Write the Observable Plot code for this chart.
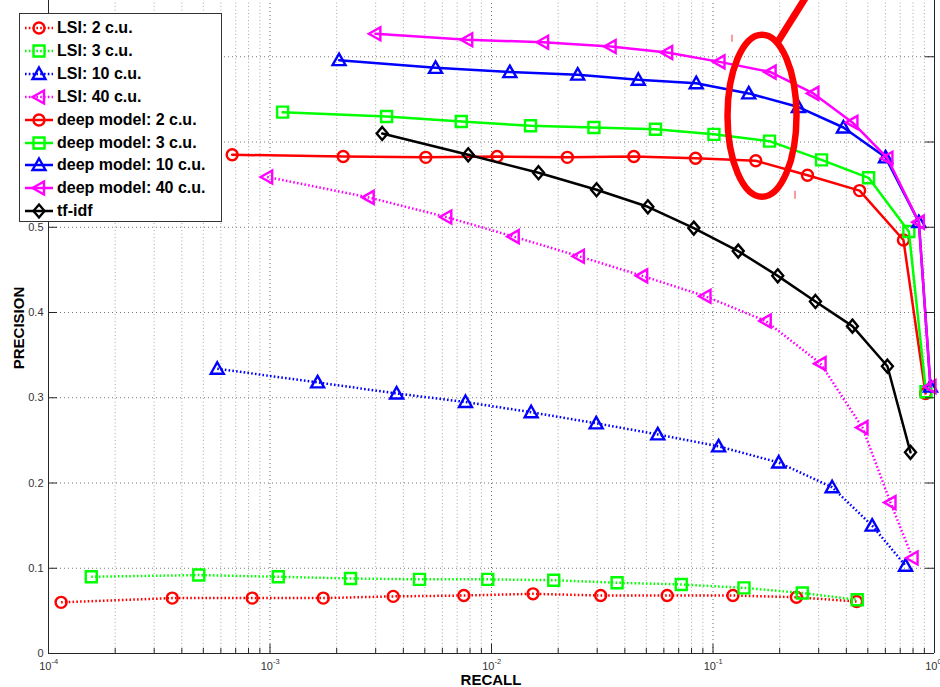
<!DOCTYPE html>
<html><head><meta charset="utf-8">
<script src="https://cdn.jsdelivr.net/npm/d3@7"></script>
<script src="https://cdn.jsdelivr.net/npm/@observablehq/plot@0.6"></script>
<style>
html,body{margin:0;padding:0;background:#fff;}
#wrap{position:relative;width:940px;height:687px;overflow:hidden;background:#fff;font-family:"Liberation Sans",Arial,Helvetica,sans-serif;}
#wrap svg.plotsvg{position:absolute;left:0;top:0;}
#legend{position:absolute;left:19px;top:13px;width:203px;height:209px;background:#fff;border:1px solid #333;box-sizing:border-box;}
.lrow{position:absolute;left:0;height:22px;display:flex;align-items:center;}
.lrow svg{display:block;}
.lrow span{font-weight:bold;font-size:16px;color:#000;margin-left:1px;white-space:nowrap;}
.atitle{position:absolute;font-weight:bold;font-size:15px;color:#000;white-space:nowrap;}
</style>
</head><body>
<div id="wrap"></div>
<script>
// ---------- data ----------
const seriesNames = ["LSI: 2 c.u.","LSI: 3 c.u.","LSI: 10 c.u.","LSI: 40 c.u.",
  "deep model: 2 c.u.","deep model: 3 c.u.","deep model: 10 c.u.","deep model: 40 c.u.","tf-idf"];
const seriesColors = ["#ff0000","#00ff00","#0000ff","#ff00ff","#ff0000","#00ff00","#0000ff","#ff00ff","#000000"];

const lsi2Recall    = [1.14e-4,3.62e-4,8.31e-4,1.74e-3,3.60e-3,7.50e-3,1.54e-2,3.11e-2,6.21e-2,0.123,0.238,0.445];
const lsi2Precision = [0.060,0.065,0.065,0.065,0.067,0.068,0.070,0.068,0.068,0.068,0.066,0.061];
const lsi3Recall    = [1.56e-4,4.77e-4,1.09e-3,2.31e-3,4.73e-3,9.62e-3,1.91e-2,3.69e-2,7.19e-2,0.138,0.253,0.448];
const lsi3Precision = [0.090,0.092,0.090,0.088,0.087,0.087,0.086,0.083,0.081,0.077,0.071,0.063];
const lsi10Recall    = [5.78e-4,1.64e-3,3.73e-3,7.63e-3,1.51e-2,2.97e-2,5.63e-2,0.106,0.198,0.345,0.523,0.740];
const lsi10Precision = [0.334,0.318,0.305,0.295,0.283,0.270,0.257,0.243,0.224,0.195,0.150,0.103];
const lsi40Recall    = [9.71e-4,2.79e-3,6.25e-3,1.26e-2,2.48e-2,4.79e-2,9.25e-2,0.173,0.306,0.473,0.633,0.796];
const lsi40Precision = [0.559,0.535,0.512,0.489,0.466,0.443,0.419,0.390,0.340,0.265,0.177,0.112];
const deep2Recall    = [6.75e-4,2.14e-3,5.05e-3,1.06e-2,2.20e-2,4.39e-2,8.34e-2,0.156,0.267,0.459,0.724,0.911];
const deep2Precision = [0.585,0.583,0.582,0.583,0.582,0.583,0.581,0.578,0.561,0.543,0.485,0.305];
const deep3Recall    = [1.14e-3,3.36e-3,7.30e-3,1.50e-2,2.90e-2,5.50e-2,0.101,0.180,0.309,0.504,0.766,0.915];
const deep3Precision = [0.635,0.630,0.624,0.619,0.617,0.615,0.609,0.601,0.579,0.558,0.495,0.307];
const deep10Recall    = [2.05e-3,5.59e-3,1.21e-2,2.45e-2,4.60e-2,8.40e-2,0.145,0.243,0.388,0.601,0.850,0.959];
const deep10Precision = [0.696,0.687,0.682,0.679,0.673,0.669,0.657,0.641,0.617,0.582,0.506,0.313];
const deep40Recall    = [2.99e-3,7.77e-3,1.71e-2,3.45e-2,6.21e-2,0.107,0.182,0.284,0.426,0.613,0.850,0.959];
const deep40Precision = [0.727,0.720,0.717,0.712,0.705,0.694,0.682,0.657,0.623,0.581,0.506,0.313];
const tfidfRecall    = [3.21e-3,7.85e-3,1.63e-2,2.98e-2,5.08e-2,8.19e-2,0.130,0.196,0.290,0.426,0.613,0.779];
const tfidfPrecision = [0.610,0.585,0.564,0.544,0.524,0.499,0.472,0.443,0.413,0.384,0.337,0.236];

const xMajorTicks = [1e-4,1e-3,1e-2,1e-1,1];
const xTickBase = ["10","10","10","10","10"];
const xTickExp = ["-4","-3","-2","-1","0"];
const yTicks = [0,0.1,0.2,0.3,0.4,0.5,0.6,0.7];
const yTickLabels = ["0","0.1","0.2","0.3","0.4","0.5","0.6","0.7"];
const xTitle = "RECALL", yTitle = "PRECISION";
// annotation (red ellipse) centre in data units
const noteRecall = 0.1673, notePrecision = 0.6303;

// ---------- symbols ----------
const symCircle = {draw(c){ c.moveTo(5.5,0); c.arc(0,0,5.5,0,2*Math.PI); c.closePath(); }};
const symSquare = {draw(c){ c.moveTo(-5.5,-5.5); c.lineTo(5.5,-5.5); c.lineTo(5.5,5.5); c.lineTo(-5.5,5.5); c.closePath(); }};
const symTriUp = {draw(c){ c.moveTo(0,-6.5); c.lineTo(6.5,5); c.lineTo(-6.5,5); c.closePath(); }};
const symTriLeft = {draw(c){ c.moveTo(-6.5,0); c.lineTo(5,-6.5); c.lineTo(5,6.5); c.closePath(); }};
const symDiamond = {draw(c){ c.moveTo(0,-6.5); c.lineTo(5.5,0); c.lineTo(0,6.5); c.lineTo(-5.5,0); c.closePath(); }};

const seriesData = [
  [lsi2Recall,lsi2Precision],[lsi3Recall,lsi3Precision],[lsi10Recall,lsi10Precision],[lsi40Recall,lsi40Precision],
  [deep2Recall,deep2Precision],[deep3Recall,deep3Precision],[deep10Recall,deep10Precision],[deep40Recall,deep40Precision],
  [tfidfRecall,tfidfPrecision]];
const seriesSymbols = [symCircle,symSquare,symTriUp,symTriLeft,symCircle,symSquare,symTriUp,symTriLeft,symDiamond];
const seriesDotted = [true,true,true,true,false,false,false,false,false];

const tables = seriesData.map(([rx,py],k)=>rx.map((r,i)=>({series:seriesNames[k],recall:r,precision:py[i]})));

const xMinorTicks = [];
xMajorTicks.slice(0,-1).forEach(m=>{ for(let k=2;k<=9;k++) xMinorTicks.push(m*k); });

const axisColor = "#262626";
const marks = [
  Plot.ruleY(yTicks.slice(1), {y:d=>d, stroke:"#777", strokeDasharray:"1,3", strokeWidth:1}),
  Plot.ruleX(xMinorTicks, {x:d=>d, stroke:"#aaa", strokeDasharray:"1,2.5", strokeWidth:1}),
  Plot.ruleX(xMajorTicks.slice(1,-1), {x:d=>d, stroke:"#666", strokeDasharray:"1,3", strokeWidth:1}),
];
tables.forEach((t,k)=>{
  marks.push(Plot.line(t, {x:"recall", y:"precision", stroke:seriesColors[k], strokeWidth:2.5,
    strokeDasharray: seriesDotted[k] ? "1.6,2.2" : null, strokeLinecap: seriesDotted[k] ? "butt" : "round"}));
  marks.push(Plot.dot(t, {x:"recall", y:"precision", symbol:seriesSymbols[k], stroke:seriesColors[k], fill:"none", strokeWidth:2.4, r:5}));
});
marks.push(
  // axes box
  Plot.ruleX([1e-4,1], {x:d=>d, stroke:axisColor, strokeWidth:1}),
  Plot.ruleY([0], {y:d=>d, stroke:axisColor, strokeWidth:1}),
  // inward ticks
  Plot.ruleX(xMajorTicks, {x:d=>d, y1:0, y2:0, insetTop:-9, stroke:axisColor}),
  Plot.ruleX(xMinorTicks, {x:d=>d, y1:0, y2:0, insetTop:-5, stroke:axisColor}),
  Plot.ruleY(yTicks, {y:d=>d, x1:1e-4, x2:1e-4, insetRight:-9, stroke:axisColor}),
  Plot.ruleY(yTicks, {y:d=>d, x1:1, x2:1, insetLeft:-9, stroke:axisColor}),
  // tick labels
  Plot.text(yTicks, {x:1e-4, y:d=>d, text:(d,i)=>yTickLabels[i], textAnchor:"end", dx:-5, fontSize:11, fill:"#333"}),
  Plot.text(xMajorTicks, {x:d=>d, y:0, text:(d,i)=>xTickBase[i], textAnchor:"end", dx:3, dy:13, fontSize:11, fill:"#333"}),
  Plot.text(xMajorTicks, {x:d=>d, y:0, text:(d,i)=>xTickExp[i], textAnchor:"start", dx:3, dy:8, fontSize:7.5, fill:"#333"})
);

const plot = Plot.plot({
  width:940, height:687,
  marginLeft:48, marginRight:6, marginTop:-29, marginBottom:34,
  x:{type:"log", domain:[1e-4,1], axis:null},
  y:{domain:[0,0.8], axis:null},
  style:{background:"#fff", fontFamily:"'Liberation Sans',Arial,sans-serif", overflow:"hidden"},
  marks
});
plot.classList.add("plotsvg");
const wrap = document.getElementById("wrap");
wrap.appendChild(plot);

// ---------- annotation ellipse ----------
const sx = plot.scale("x"), sy = plot.scale("y");
const cx = sx.apply(noteRecall), cy = sy.apply(notePrecision);
const svgNS = "http://www.w3.org/2000/svg";
const g = document.createElementNS(svgNS,"g");
const ell = document.createElementNS(svgNS,"ellipse");
ell.setAttribute("cx",cx); ell.setAttribute("cy",cy); ell.setAttribute("rx",34.5); ell.setAttribute("ry",81);
ell.setAttribute("fill","none"); ell.setAttribute("stroke","#ff0000"); ell.setAttribute("stroke-width",6.5);
g.appendChild(ell);
const a = 64*Math.PI/180, px0 = cx+34.5*Math.cos(a), py0 = cy-81*Math.sin(a);
const ln = document.createElementNS(svgNS,"line");
ln.setAttribute("x1",px0); ln.setAttribute("y1",py0); ln.setAttribute("x2",px0+42); ln.setAttribute("y2",py0-67);
ln.setAttribute("stroke","#ff0000"); ln.setAttribute("stroke-width",7);
g.appendChild(ln);
[[-30,-81,-74],[33,75,83]].forEach(([dx,y1,y2])=>{
  const t = document.createElementNS(svgNS,"line");
  t.setAttribute("x1",cx+dx); t.setAttribute("x2",cx+dx); t.setAttribute("y1",cy+y1); t.setAttribute("y2",cy+y2);
  t.setAttribute("stroke","#ff5555"); t.setAttribute("stroke-width",1.2);
  g.appendChild(t);
});
plot.appendChild(g);

// ---------- legend ----------
const legend = document.createElement("div");
legend.id = "legend";
seriesNames.forEach((name,k)=>{
  const row = document.createElement("div");
  row.className = "lrow";
  row.style.top = (3 + k*22.9) + "px";
  const s = d3.create("svg").attr("width",36).attr("height",22);
  s.append("line").attr("x1",5).attr("x2",33).attr("y1",11).attr("y2",11)
    .attr("stroke",seriesColors[k]).attr("stroke-width",2.5)
    .attr("stroke-dasharray",seriesDotted[k]?"1.6,2.2":null);
  s.append("path").attr("transform","translate(19,11)").attr("d",d3.symbol(seriesSymbols[k])())
    .attr("fill","none").attr("stroke",seriesColors[k]).attr("stroke-width",2.4);
  row.appendChild(s.node());
  const sp = document.createElement("span"); sp.textContent = name; row.appendChild(sp);
  legend.appendChild(row);
});
wrap.appendChild(legend);

// ---------- axis titles ----------
const xt = document.createElement("div");
xt.className="atitle"; xt.textContent = xTitle;
xt.style.left="491px"; xt.style.top="671px"; xt.style.transform="translateX(-50%)";
wrap.appendChild(xt);
const yt = document.createElement("div");
yt.className="atitle"; yt.textContent = yTitle;
yt.style.left="18px"; yt.style.top="328px"; yt.style.transform="translate(-50%,-50%) rotate(-90deg)";
wrap.appendChild(yt);
</script>
</body></html>
